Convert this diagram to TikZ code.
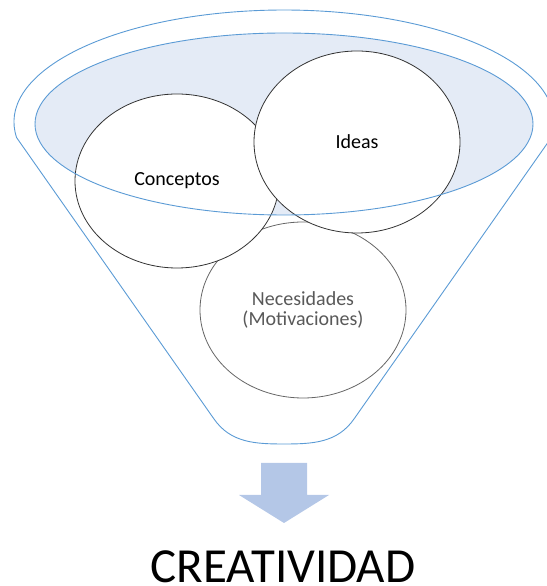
\documentclass[tikz,border=0pt]{standalone}
\usepackage{fontspec}
\setmainfont{Carlito}
\usetikzlibrary{shapes.geometric}
\definecolor{azul}{HTML}{5B9BD5}
\definecolor{azulclaro}{HTML}{E4EBF6}
\definecolor{azulflecha}{HTML}{B4C7E7}
\tikzset{
  burbuja/.style={ellipse, draw=black!80, fill=white, line width=0.8pt,
    inner sep=0pt, font=\fontsize{20}{20}\selectfont},
  embudo/.style={draw=azul, line width=0.9pt},
}

\begin{document}
\begin{tikzpicture}[x=1pt,y=1pt]
    \useasboundingbox (0,0) rectangle (546,586);
    % boca del embudo (relleno)
    \fill[azulclaro] (284,462) ellipse [x radius=249, y radius=91];
    % burbujas
    \node[burbuja, draw=black!60, text=black!65, align=center,
      minimum width=206, minimum height=176] (necesidades) at (303,276)
      {Necesidades\\(Motivaciones)};
    \node[burbuja, minimum width=204, minimum height=174] (conceptos) at (177,405) {Conceptos};
    \node[burbuja, minimum width=206, minimum height=182] (ideas) at (357,444) {Ideas};
    % boca del embudo (borde)
    \draw[embudo] (284,462) ellipse [x radius=249, y radius=91];
    % cuerpo del embudo
    \draw[embudo, line join=round] (16.6,448.4) arc [start angle=188, end angle=-8, x radius=270, y radius=112]
      -- (354,167) to[out=235, in=0] (284,142) to[out=180, in=-55] (214,167) -- cycle;
    % flecha
    \fill[azulflecha] (261,123) -- (307,123) -- (307,91) -- (329,91) -- (284,63)
      -- (239,91) -- (261,91) -- cycle;
    % resultado
    \node[font=\fontsize{49}{52}\selectfont, anchor=base, inner sep=0pt] (creatividad) at (283,3) {CREATIVIDAD};
\end{tikzpicture}
\end{document}
